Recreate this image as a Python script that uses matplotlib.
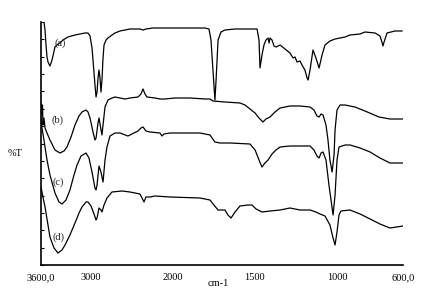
import numpy as np
import matplotlib
matplotlib.use("Agg")
import matplotlib.pyplot as plt

# FTIR spectra (wavenumber cm-1, %T in stacked display units)
wn_a = [3564, 3551, 3539, 3527, 3515, 3491, 3466, 3430, 3393, 3357, 3333, 3272, 3187, 3126, 3065, 3029,
        3004, 2980, 2968, 2944, 2931, 2919, 2907, 2895, 2883, 2871, 2859, 2846, 2834, 2810, 2786, 2737,
        2701, 2640, 2518, 2397, 2360, 2324, 2239, 2032, 1894, 1803, 1779, 1767, 1755, 1743, 1736, 1724,
        1706, 1682, 1621, 1487, 1475, 1469, 1457, 1445, 1433, 1420, 1414, 1408, 1396, 1384, 1372, 1347,
        1317, 1287, 1268, 1256, 1244, 1226, 1214, 1196, 1183, 1177, 1165, 1147, 1129, 1110, 1092, 1074,
        1044, 1013, 952, 922, 861, 831, 770, 740, 728, 722, 715, 697, 649, 606]
t_a = [243, 235, 220, 208, 203, 199, 205, 218, 221, 223, 225, 228, 230, 231, 232, 232,
       229, 217, 205, 180, 168, 173, 187, 195, 187, 173, 185, 207, 220, 225, 227, 230,
       232, 234, 236, 236, 235, 236, 237, 237, 237, 237, 236, 225, 195, 165, 185, 225,
       233, 235, 236, 236, 225, 197, 210, 220, 225, 227, 222, 227, 225, 219, 218, 220,
       216, 212, 207, 208, 203, 204, 200, 195, 187, 185, 195, 215, 207, 197, 210, 220,
       224, 226, 228, 230, 231, 233, 232, 229, 223, 219, 223, 232, 234, 234]

wn_b = [3600, 3588, 3582, 3576, 3564, 3551, 3527, 3491, 3430, 3369, 3320, 3284, 3235, 3187, 3138, 3102,
        3053, 3029, 3004, 2968, 2944, 2931, 2907, 2895, 2883, 2859, 2846, 2822, 2786, 2737, 2701, 2579,
        2518, 2421, 2385, 2360, 2336, 2312, 2214, 2154, 2093, 1986, 1894, 1803, 1773, 1755, 1682, 1591,
        1560, 1530, 1499, 1475, 1451, 1433, 1408, 1378, 1347, 1287, 1226, 1165, 1141, 1123, 1110, 1098,
        1086, 1068, 1056, 1044, 1031, 1019, 1013, 1001, 983, 952, 892, 831, 746, 679, 600]
t_b = [162, 150, 160, 140, 147, 137, 132, 125, 115, 112, 114, 118, 128, 140, 149, 153,
       155, 153, 147, 133, 125, 127, 142, 147, 141, 130, 140, 158, 165, 167, 168, 166,
       167, 168, 171, 176, 171, 168, 167, 166, 166, 167, 167, 166, 166, 164, 163, 162,
       160, 156, 152, 147, 143, 146, 148, 153, 157, 159, 159, 158, 155, 149, 148, 151,
       150, 140, 125, 105, 93, 110, 135, 155, 160, 160, 158, 154, 148, 146, 146]

wn_c = [3600, 3588, 3564, 3527, 3491, 3430, 3381, 3345, 3296, 3248, 3199, 3162, 3114, 3053, 3017, 2980,
        2944, 2931, 2919, 2895, 2871, 2846, 2822, 2798, 2761, 2701, 2640, 2543, 2470, 2421, 2385, 2360,
        2324, 2275, 2154, 2129, 2105, 2032, 1834, 1773, 1743, 1712, 1651, 1530, 1499, 1475, 1457, 1439,
        1420, 1396, 1372, 1347, 1287, 1165, 1141, 1123, 1110, 1098, 1086, 1068, 1050, 1025, 1013, 1001,
        989, 952, 922, 861, 800, 740, 679, 600]
t_c = [147, 137, 125, 105, 90, 72, 63, 61, 65, 75, 90, 100, 109, 112, 107, 93,
       77, 75, 80, 99, 93, 83, 105, 118, 129, 132, 132, 129, 132, 134, 137, 138,
       134, 133, 132, 129, 131, 132, 132, 130, 123, 122, 122, 121, 115, 105, 98, 102,
       105, 111, 115, 118, 119, 119, 115, 109, 107, 112, 113, 105, 80, 50, 70, 105,
       118, 120, 120, 117, 113, 107, 102, 102]

wn_d = [3600, 3576, 3551, 3515, 3491, 3442, 3393, 3345, 3308, 3248, 3187, 3138, 3102, 3053, 3029, 2992,
        2956, 2931, 2919, 2895, 2871, 2859, 2834, 2798, 2737, 2615, 2518, 2397, 2360, 2348, 2324, 2275,
        2214, 2032, 1834, 1773, 1749, 1724, 1682, 1664, 1645, 1621, 1591, 1542, 1518, 1493, 1457, 1408,
        1347, 1287, 1226, 1165, 1129, 1104, 1074, 1044, 1025, 1013, 1001, 989, 977, 922, 861, 800,
        740, 679, 600]
t_d = [78, 68, 58, 40, 28, 17, 12, 15, 20, 30, 42, 52, 58, 63, 63, 59,
       51, 45, 47, 57, 55, 53, 60, 67, 73, 74, 73, 71, 65, 63, 68, 68,
       69, 68, 67, 65, 60, 55, 55, 50, 47, 53, 59, 60, 60, 56, 53, 54,
       55, 57, 55, 55, 53, 51, 49, 40, 27, 20, 33, 50, 54, 55, 51, 46,
       41, 37, 39]

labels = ["(a)", "(b)", "(c)", "(d)"]
label_wn = [3369, 3405, 3393, 3393]
label_t = [222, 145, 83, 28]

tick_vals = [3600, 3000, 2000, 1500, 1000, 600]
tick_text = ["3600,0", "3000", "2000", "1500", "1000", "600,0"]


def fwd(x):
    x = np.asarray(x, float)
    return np.where(x >= 2000, x, 2 * x - 2000)


def inv(y):
    y = np.asarray(y, float)
    return np.where(y >= 2000, y, (y + 2000) / 2)


plt.rcParams['font.family'] = ['Liberation Serif', 'DejaVu Serif']

fig = plt.figure(figsize=(4.25, 2.94), dpi=100)
ax = fig.add_axes([41 / 425, 29 / 294, 362 / 425, 243 / 294])
ax.set_xscale('function', functions=(fwd, inv))
ax.set_xlim(3600, 600)
ax.set_ylim(0, 243)

for wn, t in [(wn_a, t_a), (wn_b, t_b), (wn_c, t_c), (wn_d, t_d)]:
    ax.plot(wn, t, color='black', lw=0.9)

for lab, x, y in zip(labels, label_wn, label_t):
    ax.text(x, y, lab, fontsize=7.5, ha='center', va='center', color='#222222')

for s in ['top', 'right']:
    ax.spines[s].set_visible(False)
for s in ['left', 'bottom']:
    ax.spines[s].set_linewidth(1.2)

ax.set_xticks(tick_vals)
ax.set_xticklabels(tick_text, fontsize=7.5)
ax.xaxis.set_minor_locator(matplotlib.ticker.NullLocator())
ax.tick_params(axis='x', length=0, pad=6)
ax.set_yticks(np.linspace(0, 243, 15))
ax.set_yticklabels([])
ax.tick_params(axis='y', direction='in', length=2, width=0.8)

fig.text(15 / 425, 1 - 153 / 294, "%T", fontsize=7.5, ha='center', va='center')
fig.text(218 / 425, 1 - 284 / 294, "cm-1", fontsize=7.5, ha='center', va='center')

fig.savefig("out.png", dpi=100)
